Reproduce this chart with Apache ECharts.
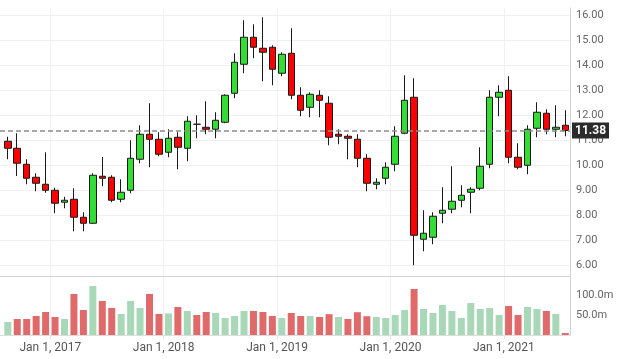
<!DOCTYPE html>
<html>
<head>
<meta charset="utf-8">
<script src="https://cdn.jsdelivr.net/npm/echarts@6/dist/echarts.min.js"></script>
<style>html,body{margin:0;padding:0;background:#fff}#c{width:618px;height:359px}</style>
</head>
<body>
<div id="c"></div>
<script>
// Monthly candles, Aug 2016 .. Jul 2021
const months = ['2016-08','2016-09','2016-10','2016-11','2016-12',
'2017-01','2017-02','2017-03','2017-04','2017-05','2017-06','2017-07','2017-08','2017-09','2017-10','2017-11','2017-12',
'2018-01','2018-02','2018-03','2018-04','2018-05','2018-06','2018-07','2018-08','2018-09','2018-10','2018-11','2018-12',
'2019-01','2019-02','2019-03','2019-04','2019-05','2019-06','2019-07','2019-08','2019-09','2019-10','2019-11','2019-12',
'2020-01','2020-02','2020-03','2020-04','2020-05','2020-06','2020-07','2020-08','2020-09','2020-10','2020-11','2020-12',
'2021-01','2021-02','2021-03','2021-04','2021-05','2021-06','2021-07'];

const openVals = [10.95,10.67,10.03,9.51,9.23,
8.99,8.51,8.63,7.91,7.67,9.55,9.51,8.63,8.99,10.23,11.23,11.03,
10.51,11.11,10.67,11.63,11.51,11.43,11.71,12.87,14.03,15.11,14.67,14.71,
13.67,14.47,12.79,12.31,12.79,12.47,11.23,11.15,11.03,10.27,9.23,9.47,
10.03,11.27,12.71,7.03,7.11,8.07,8.23,8.59,8.91,9.07,10.03,12.71,
12.99,10.31,9.99,11.47,12.07,11.43,11.59];
const closeVals = [10.67,10.07,9.47,9.27,8.99,
8.47,8.59,7.91,7.67,9.59,9.47,8.59,8.91,10.27,11.23,11.03,10.43,
11.07,10.71,11.75,11.63,11.43,11.79,12.79,14.11,15.11,14.71,14.51,13.83,
14.43,12.79,12.19,12.83,12.59,11.11,11.15,11.07,10.27,9.27,9.31,9.91,
11.15,12.59,7.19,7.27,7.95,8.19,8.55,8.79,9.03,9.95,12.71,12.91,
10.31,9.91,11.43,12.11,11.43,11.51,11.38];
const lowVals = [10.23,9.56,9.23,8.95,8.89,
8.07,8.27,7.35,7.35,7.65,9.15,8.51,8.51,8.87,10.07,9.91,10.35,
10.31,9.83,10.15,11.07,11.23,11.07,11.67,12.67,13.67,14.27,13.35,13.19,
13.55,12.63,11.95,11.91,11.91,10.79,10.83,10.23,9.91,8.95,9.03,9.23,
9.75,11.23,5.99,6.55,6.83,7.67,8.07,8.31,8.07,8.99,9.87,11.95,
10.07,9.83,9.63,11.11,11.23,11.11,11.15];
const highVals = [11.13,11.27,10.23,9.67,10.51,
9.09,8.73,9.07,8.11,9.67,10.32,9.59,9.43,10.99,11.59,12.47,11.31,
11.43,11.31,11.95,11.99,12.55,12.11,12.83,14.47,15.79,15.63,15.91,14.79,
14.51,15.47,13.11,12.91,12.99,12.75,11.43,11.23,11.23,10.43,9.47,10.11,
11.55,13.59,13.47,8.19,8.11,9.11,9.95,9.19,9.11,10.71,12.99,13.19,
13.55,10.87,11.59,12.51,12.23,12.39,12.19];
// volume in millions
const volumeVals = [32.5,40,40,47.5,57.5,
45,40,102.5,62.5,122.5,85,67.5,52.5,85,67.5,102.5,52.5,
54,70,60,50,57.5,55,42.5,47.5,60,60,57.5,47.5,
42.5,55,47.5,47.5,45,52,45,40,57,47,45,42.5,
50,62.5,115,65,55,75,60,42.5,80,65,67.5,50,
72.5,50,70,65,60,52.5,5];

const priceTicks = [6,7,8,9,10,11,12,13,14,15,16];
const volumeTicks = [50,100];
const yearTickLabels = ['Jan 1, 2017','Jan 1, 2018','Jan 1, 2019','Jan 1, 2020','Jan 1, 2021'];

// x = months since Jan 1 2016, candle centred mid-month
function monthX(s){ const p = s.split('-'); return (parseInt(p[0],10)-2016)*12 + (parseInt(p[1],10)-1) + 0.5; }
const xs = months.map(monthX);
const yearTickX = yearTickLabels.map(l => (parseInt(l.slice(-4),10)-2016)*12);
const labelByX = {}; yearTickX.forEach((v,i)=>labelByX[v]=yearTickLabels[i]);

const candleData = xs.map((x,i)=>[x, openVals[i], closeVals[i], lowVals[i], highVals[i]]);
const volUp = closeVals.map((c,i)=> i===0 ? true : c >= closeVals[i-1]);
const volData = xs.map((x,i)=>[x, volumeVals[i]]);
const lastClose = closeVals[closeVals.length-1];

const FONT = 'Roboto, "Noto Sans", sans-serif';
const X_MIN = 6.675, X_MAX = 67;

const chart = echarts.init(document.getElementById('c'), null, {renderer:'canvas'});
chart.setOption({
  animation: false,
  backgroundColor: '#fff',
  grid: [
    {left: 0, right: 48, top: 8, height: 268},
    {left: 0, right: 48, top: 276, height: 59}
  ],
  xAxis: [
    {type:'value', gridIndex:0, min:X_MIN, max:X_MAX,
     axisLine:{show:true, lineStyle:{color:'#d4d4d4', width:1}},
     axisTick:{show:false, customValues: yearTickX},
     axisLabel:{show:false, customValues: yearTickX},
     splitLine:{show:true, lineStyle:{color:'#f1f1f1', width:1}}},
    {type:'value', gridIndex:1, min:X_MIN, max:X_MAX,
     axisLine:{show:true, lineStyle:{color:'#dcdcdc', width:1}},
     axisTick:{show:true, length:4, lineStyle:{color:'#e4e4e4'}, customValues: yearTickX},
     axisLabel:{show:true, customValues: yearTickX, color:'#555', fontSize:12, fontFamily:FONT, margin:7,
       formatter: v => labelByX[Math.round(v)] || ''},
     splitLine:{show:true, lineStyle:{color:'#f1f1f1', width:1}}}
  ],
  yAxis: [
    {type:'value', gridIndex:0, position:'right', min:5.56, max:16.28,
     axisLine:{show:true, lineStyle:{color:'#d4d4d4'}},
     axisTick:{show:false, customValues: priceTicks},
     axisLabel:{show:true, customValues: priceTicks, color:'#666', fontSize:11, fontFamily:FONT, margin:6,
       formatter: v => v.toFixed(2)},
     splitLine:{show:true, lineStyle:{color:'#f0f0f0'}}},
    {type:'value', gridIndex:1, position:'right', min:0, max:147.5,
     axisLine:{show:true, lineStyle:{color:'#d4d4d4'}},
     axisTick:{show:false, customValues: volumeTicks},
     axisLabel:{show:true, customValues: volumeTicks, color:'#666', fontSize:11, fontFamily:FONT, margin:6,
       formatter: v => v.toFixed(1) + 'm'},
     splitLine:{show:false}}
  ],
  series: [
    {type:'candlestick', xAxisIndex:0, yAxisIndex:0, data:candleData,
     encode:{x:0, y:[1,2,3,4]},
     barWidth: 7,
     itemStyle:{color:'#33dd33', color0:'#ff0000', borderColor:'#1a1a1a', borderColor0:'#1a1a1a', borderWidth:1},
     markLine:{silent:true, symbol:['none','none'],
       data:[{yAxis:lastClose}],
       lineStyle:{type:[5,3], color:'#8c8c8c', width:1.5},
       label:{show:true, position:'end', distance:2, formatter: p => Number(p.value).toFixed(2),
         backgroundColor:'#2b2b2b', color:'#fff', fontWeight:'bold', fontSize:12, fontFamily:FONT, padding:[2,3,2,3]}}
    },
    {type:'bar', xAxisIndex:1, yAxisIndex:1, data:volData, barWidth:7,
     itemStyle:{color: p => volUp[p.dataIndex] ? '#a8d8b8' : '#e06a6a'}}
  ]
});
</script>
</body>
</html>
